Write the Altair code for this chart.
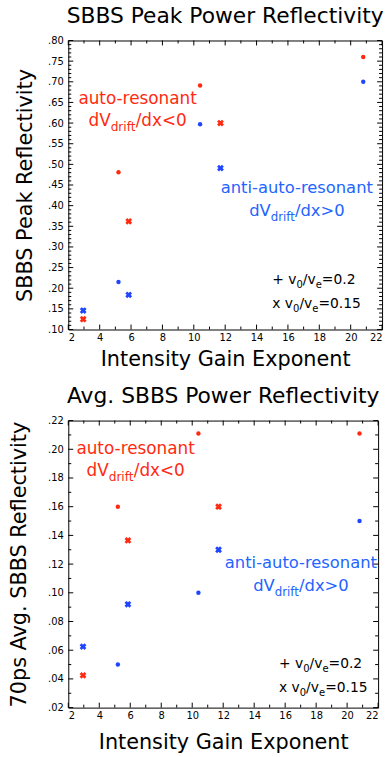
import altair as alt
import pandas as pd
import numpy as np

# ---------------- data ----------------
GAIN_V02 = [5.2, 10.4, 20.8]      # "+" v0/ve = 0.2  (dots)
GAIN_V015 = [2.95, 5.85, 11.7]    # "x" v0/ve = 0.15 (crosses)

PEAK_AUTO_V02 = [0.481, 0.691, 0.760]
PEAK_ANTI_V02 = [0.215, 0.597, 0.700]
PEAK_AUTO_V015 = [0.125, 0.362, 0.600]
PEAK_ANTI_V015 = [0.146, 0.184, 0.491]

AVG_AUTO_V02 = [0.160, 0.211, 0.211]
AVG_ANTI_V02 = [0.050, 0.100, 0.150]
AVG_AUTO_V015 = [0.0425, 0.1365, 0.160]
AVG_ANTI_V015 = [0.0625, 0.092, 0.130]

TITLES = ["SBBS Peak Power Reflectivity", "Avg. SBBS Power Reflectivity"]
YTITLES = ["SBBS Peak Reflectivity", "70ps Avg. SBBS Reflectivity"]
XTITLE = "Intensity Gain Exponent"
X_TICKS = list(range(2, 23, 2))
Y_TICKS_TOP = [round(0.10 + 0.05 * i, 2) for i in range(15)]
Y_TICKS_BOT = [round(0.02 + 0.02 * i, 2) for i in range(11)]

# annotation anchors (data coordinates): centre x / baseline of first line
ANN_TOP = {"auto": (6.42, 0.647), "anti": (16.57, 0.431), "legend": (15.0, 0.210)}
ANN_BOT = {"auto": (6.35, 0.197), "anti": (17.02, 0.117), "legend": (15.6, 0.0476)}

RED = "#ff2a10"
BLUE_PT = "#1f45ff"
BLUE_TXT = "#2264ff"
FONT = "DejaVu Sans"
SUB = 0.72

W = {' ': .318, 'a': .613, 'c': .550, 'd': .635, 'e': .615, 'f': .352, 'i': .278,
     'n': .634, 'o': .612, 'r': .411, 's': .521, 't': .392, 'u': .634, 'v': .592,
     'x': .592, 'V': .684, '/': .337, '<': .838, '>': .838, '=': .838, '.': .318,
     '+': .838, '-': .361}
for d in "0123456789":
    W[d] = .636


def tw(s, size):
    return sum(W.get(ch, 0.6) for ch in s) * size


def rich_line(anchor, segments, size, color, dy, center, X, Y):
    df = pd.DataFrame({"gain": [anchor[0]], "refl": [anchor[1]]})
    widths = [tw(t, size * (SUB if sub else 1)) for t, sub in segments]
    x = -sum(widths) / 2 if center else 0
    out = []
    for (t, sub), w in zip(segments, widths):
        out.append(
            alt.Chart(df).mark_text(
                text=t, align="left", baseline="alphabetic", dx=x,
                dy=dy + (size * 0.3 if sub else 0),
                fontSize=size * (SUB if sub else 1), font=FONT, color=color,
            ).encode(x=X, y=Y)
        )
        x += w
    return out


def panel(title, ytitle, ydom, yticks, yminor, data, ann, width, height, ytp, xtp):
    X = alt.X("gain:Q", scale=alt.Scale(domain=[2, 22], nice=False, zero=False),
              axis=alt.Axis(values=X_TICKS, title=XTITLE, titlePadding=xtp,
                            labelPadding=3))
    Y = alt.Y("refl:Q", scale=alt.Scale(domain=ydom, nice=False, zero=False),
              axis=alt.Axis(values=yticks, title=ytitle, titlePadding=ytp,
                            labelPadding=5,
                            labelExpr="substring(format(datum.value, '.2f'), 1)"))

    df = pd.DataFrame(data)
    dots = alt.Chart(df).transform_filter("datum.kind == 'dot'").mark_point(
        shape="circle", filled=True, size=20, opacity=1
    ).encode(x=X, y=Y, color=alt.Color("series:N", scale=alt.Scale(
        domain=["auto", "anti"], range=[RED, BLUE_PT]), legend=None))
    crosses = alt.Chart(df).transform_filter("datum.kind == 'cross'").mark_point(
        shape="cross", angle=45, filled=True, size=48, opacity=1
    ).encode(x=X, y=Y, color=alt.Color("series:N", scale=alt.Scale(
        domain=["auto", "anti"], range=[RED, BLUE_PT]), legend=None))

    ymaj = pd.DataFrame({"refl": yticks})
    ymin = pd.DataFrame({"refl": yminor})
    xmaj = pd.DataFrame({"gain": X_TICKS})
    xmin = pd.DataFrame({"gain": list(range(3, 22, 2))})
    ticks = []
    for d, ln in ((ymaj, 5), (ymin, 3)):
        ticks.append(alt.Chart(d).mark_rule(color="black", strokeWidth=1).encode(
            y=Y, x=alt.value(0), x2=alt.value(ln)))
        ticks.append(alt.Chart(d).mark_rule(color="black", strokeWidth=1).encode(
            y=Y, x=alt.value(width), x2=alt.value(width - ln)))
    for d, ln in ((xmaj, 5), (xmin, 3)):
        ticks.append(alt.Chart(d).mark_rule(color="black", strokeWidth=1).encode(
            x=X, y=alt.value(height), y2=alt.value(height - ln)))
        ticks.append(alt.Chart(d).mark_rule(color="black", strokeWidth=1).encode(
            x=X, y=alt.value(0), y2=alt.value(ln)))

    texts = []
    texts += rich_line(ann["auto"], [("auto-resonant", False)], 17, RED, 0, True, X, Y)
    texts += rich_line(ann["auto"], [("dV", False), ("drift", True), ("/dx<0", False)],
                       17, RED, 23, True, X, Y)
    texts += rich_line(ann["anti"], [("anti-auto-resonant", False)], 16.5, BLUE_TXT, 0, True, X, Y)
    texts += rich_line(ann["anti"], [("dV", False), ("drift", True), ("/dx>0", False)],
                       16.5, BLUE_TXT, 23, True, X, Y)
    texts += rich_line(ann["legend"], [("+ v", False), ("0", True), ("/v", False),
                                       ("e", True), ("=0.2", False)],
                       14, "black", 0, False, X, Y)
    texts += rich_line(ann["legend"], [("x v", False), ("0", True), ("/v", False),
                                       ("e", True), ("=0.15", False)],
                       14, "black", 24, False, X, Y)

    return alt.layer(*ticks, dots, crosses, *texts).properties(
        width=width, height=height,
        title=alt.TitleParams(title, fontSize=22, font=FONT, fontWeight="normal",
                              anchor="middle", offset=8, color="black"),
    )


def rows(auto02, anti02, auto015, anti015):
    g, r, s, k = [], [], [], []
    for gains, vals, ser, kind in ((GAIN_V02, auto02, "auto", "dot"),
                                   (GAIN_V02, anti02, "anti", "dot"),
                                   (GAIN_V015, auto015, "auto", "cross"),
                                   (GAIN_V015, anti015, "anti", "cross")):
        g += gains; r += vals; s += [ser] * len(vals); k += [kind] * len(vals)
    return {"gain": g, "refl": r, "series": s, "kind": k}


minor_top = [round(0.10 + 0.01 * i, 2) for i in range(71) if i % 5 != 0]
minor_bot = [round(0.02 + 0.01 * i, 2) for i in range(21) if i % 2 != 0]

top = panel(TITLES[0], YTITLES[0], [0.10, 0.80], Y_TICKS_TOP, minor_top,
            rows(PEAK_AUTO_V02, PEAK_ANTI_V02, PEAK_AUTO_V015, PEAK_ANTI_V015),
            ANN_TOP, 317, 292, 12, 6)
bot = panel(TITLES[1], YTITLES[1], [0.02, 0.22], Y_TICKS_BOT, minor_bot,
            rows(AVG_AUTO_V02, AVG_ANTI_V02, AVG_AUTO_V015, AVG_ANTI_V015),
            ANN_BOT, 313, 290, 18, 11)

chart = alt.concat(top, bot, columns=1, align="none", spacing=14).properties(
    padding={"left": 8, "top": 0, "right": 3, "bottom": 3},
    background="white",
).configure_view(stroke="black", strokeWidth=1).configure_axis(
    domain=False, ticks=False, tickSize=0, grid=False,
    labelFont=FONT, labelFontSize=10, labelColor="black",
    titleFont=FONT, titleFontSize=21, titleFontWeight="normal", titleColor="black",
)

chart.save("out.html", embed_options={"renderer": "svg", "actions": False})
